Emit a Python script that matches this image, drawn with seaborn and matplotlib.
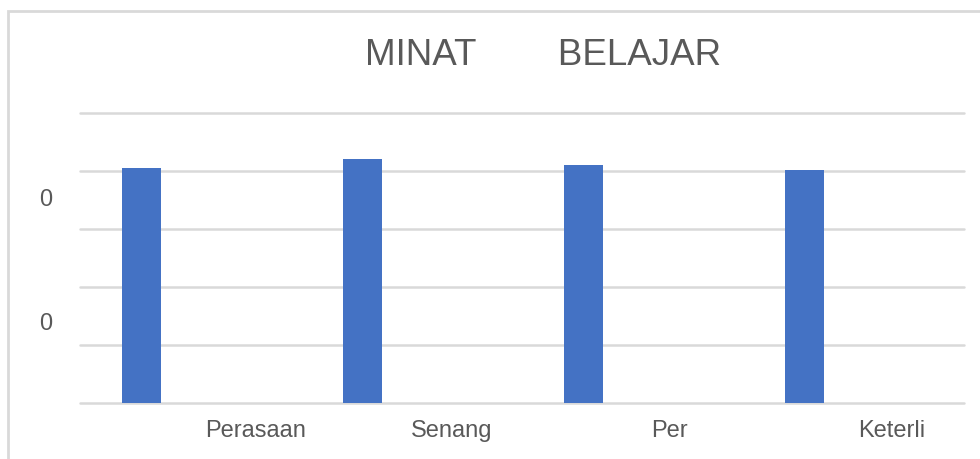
import matplotlib
matplotlib.use("Agg")
import matplotlib.pyplot as plt
import matplotlib.patches as mpatches
import seaborn as sns
import pandas as pd

# data
categories = ["K1", "K2", "K3", "K4"]
values = [4.05, 4.21, 4.10, 4.02]
series_order = ["Seri 1", "Seri 2", "Seri 3"]   # only the first one has bars
tick_labels = ["Perasaan", "Senang", "Per", "Keterli"]
tick_pos = [0.296, 1.183, 2.165, 3.174]
ylabel_pos = [1.40, 3.55]
ylabel_text = ["0", "0"]

TEXT = "#595959"
GRID = "#d9d9d9"
BLUE = "#4472C4"

sns.set_theme(style="white")
plt.rcParams["font.family"] = ["Liberation Sans", "DejaVu Sans"]

df = pd.DataFrame({"kategori": categories, "nilai": values, "seri": series_order[0]})

fig = plt.figure(figsize=(9.8, 4.59), dpi=100)
ax = fig.add_axes([80 / 980, 1 - 403 / 459, 884 / 980, 290 / 459])

sns.barplot(data=df, x="kategori", y="nilai", hue="seri", hue_order=series_order,
            palette=[BLUE, BLUE, BLUE], width=0.666, gap=0.207, dodge=True,
            legend=False, ax=ax, errorbar=None, saturation=1, linewidth=0)

ax.set_ylim(0, 5)
ax.set_xlim(-0.5, 3.5)
ax.set_yticks(range(0, 6))
ax.set_yticklabels([])
ax.set_yticks(ylabel_pos, labels=ylabel_text, minor=True)
ax.set_xticks(tick_pos, labels=tick_labels)
ax.yaxis.grid(True, which="major", color=GRID, linewidth=1.8)
for gl in ax.get_ygridlines():
    gl.set_clip_on(False)
ax.set_axisbelow(True)
ax.tick_params(axis="y", which="both", length=0, pad=20, labelsize=17, labelcolor=TEXT)
ax.tick_params(axis="x", length=0, pad=12, labelsize=17, labelcolor=TEXT)
ax.set_xlabel("")
ax.set_ylabel("")
for s in ax.spines.values():
    s.set_visible(False)

# chart frame (only top/left edges visible in the crop)
fig.patches.append(mpatches.Rectangle((8 / 980, -0.1), 1.2, 1 - 11.5 / 459 + 0.1,
                                      transform=fig.transFigure, fill=False,
                                      edgecolor=GRID, linewidth=2))

fig.text(543.5 / 980, 1 - 65 / 459, "MINAT        BELAJAR", ha="center", va="baseline",
         fontsize=26.5, color=TEXT)

fig.savefig("out.png", dpi=100, facecolor="white")
